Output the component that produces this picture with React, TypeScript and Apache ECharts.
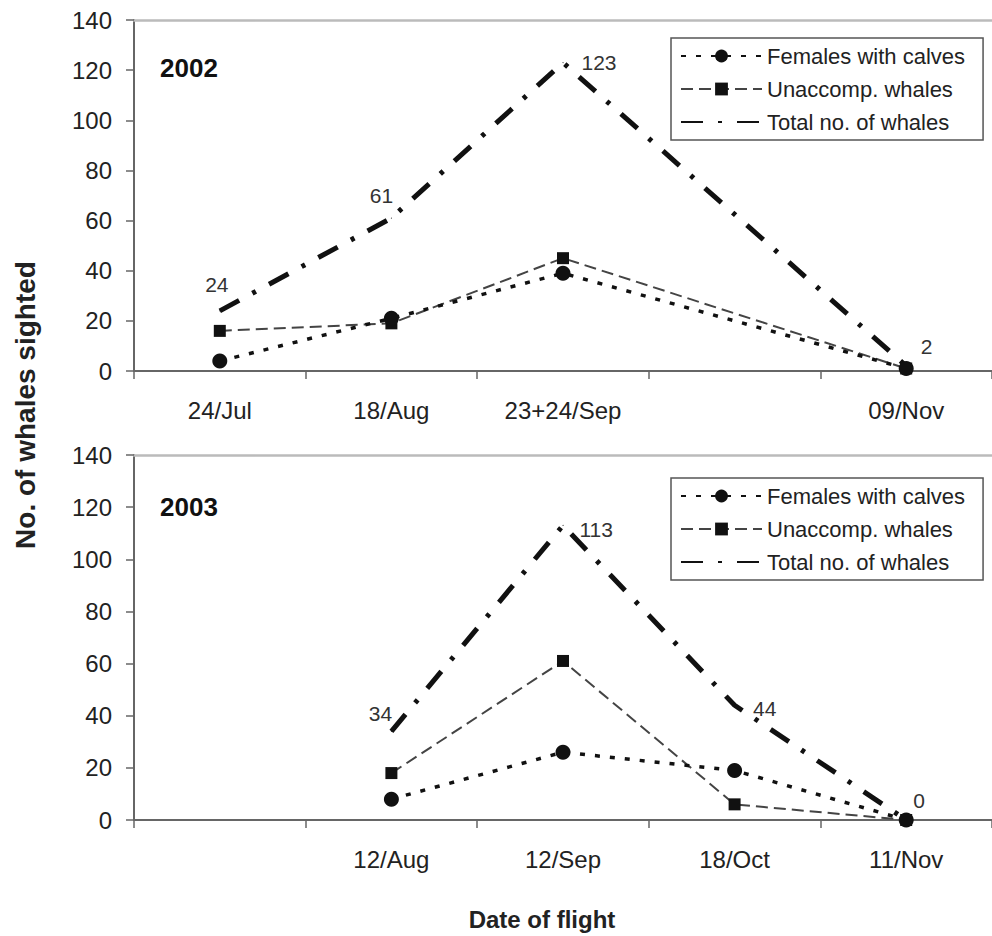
import React, { useEffect, useRef } from "react";
import * as echarts from "echarts";

const names = ["Females with calves", "Unaccomp. whales", "Total no. of whales"];

const categories2002 = ["24/Jul", "18/Aug", "23+24/Sep", "", "09/Nov"];
const females2002 = [4, 21, 39, null, 1];
const unaccomp2002 = [16, 19, 45, null, 1];
const total2002 = [24, 61, 123, null, 2];

const categories2003 = ["", "12/Aug", "12/Sep", "18/Oct", "11/Nov"];
const females2003 = [null, 8, 26, 19, 0];
const unaccomp2003 = [null, 18, 61, 6, 0];
const total2003 = [null, 34, 113, 44, 0];

const yMin = 0;
const yMax = 140;
const yStep = 20;

const FONT = "'Liberation Sans', Arial, sans-serif";

// label placement for the "Total" values (style only)
const totalLabel2002 = [
  { position: "top", distance: 15, offset: [-3, 0] },
  { position: "top", distance: 12, offset: [-10, 0] },
  { position: "right", distance: 18, offset: [0, 0] },
  null,
  { position: "right", distance: 14, offset: [0, -19] },
];
const totalLabel2003 = [
  null,
  { position: "top", distance: 7, offset: [-11, 0] },
  { position: "right", distance: 16, offset: [0, 4] },
  { position: "right", distance: 18, offset: [0, 3] },
  { position: "top", distance: 9, offset: [13, 0] },
];

function buildSeries(gi: number, fem: any[], una: any[], tot: any[], lab: any[]) {
  const totalData = tot.map((v, i) => {
    const l = lab[i];
    if (v === null || !l) return v;
    return {
      value: v,
      label: {
        show: true,
        position: l.position,
        distance: l.distance,
        offset: l.offset,
        color: "#333",
        fontSize: 21,
        fontFamily: FONT,
      },
    };
  });
  return [
    {
      name: names[0],
      type: "line",
      xAxisIndex: gi * 2,
      yAxisIndex: gi,
      data: fem,
      connectNulls: true,
      symbol: "circle",
      symbolSize: 15,
      itemStyle: { color: "#111" },
      lineStyle: { color: "#111", width: 3.5, type: [5, 10] },
      z: 4,
    },
    {
      name: names[1],
      type: "line",
      xAxisIndex: gi * 2,
      yAxisIndex: gi,
      data: una,
      connectNulls: true,
      symbol: "rect",
      symbolSize: 12,
      itemStyle: { color: "#111" },
      lineStyle: { color: "#444", width: 2, type: [12, 6] },
      z: 3,
    },
    {
      name: names[2],
      type: "line",
      xAxisIndex: gi * 2,
      yAxisIndex: gi,
      data: totalData,
      connectNulls: true,
      symbol: "circle",
      symbolSize: 1,
      showSymbol: true,
      itemStyle: { color: "#111" },
      lineStyle: { color: "#111", width: 5, type: [22, 15, 4, 15] },
      label: { show: false },
      z: 2,
    },
  ];
}

function xAxes(gi: number, cats: string[]) {
  return [
    {
      type: "category",
      gridIndex: gi,
      data: cats,
      boundaryGap: true,
      axisLine: { show: true, lineStyle: { color: "#666", width: 2 } },
      axisTick: { show: true, length: 8, lineStyle: { color: "#666", width: 1.5 } },
      axisLabel: { color: "#222", fontSize: 24, fontFamily: FONT, margin: 27, interval: 0 },
      splitLine: { show: false },
    },
    {
      type: "category",
      gridIndex: gi,
      position: "top",
      data: cats,
      axisLine: { show: true, lineStyle: { color: "#bbb", width: 2.5 } },
      axisTick: { show: false },
      axisLabel: { show: false },
      splitLine: { show: false },
    },
  ];
}

function yAxis(gi: number) {
  return {
    type: "value",
    gridIndex: gi,
    min: yMin,
    max: yMax,
    interval: yStep,
    axisLine: { show: true, lineStyle: { color: "#666", width: 2 } },
    axisTick: { show: true, length: 8, lineStyle: { color: "#666", width: 1.5 } },
    axisLabel: { color: "#222", fontSize: 24, fontFamily: FONT, margin: 22 },
    splitLine: { show: false },
  };
}

function legend(left: number, top: number) {
  return {
    left,
    top,
    orient: "vertical",
    data: [
      { name: names[0] },
      { name: names[1] },
      { name: names[2], itemStyle: { opacity: 0 } },
    ],
    itemWidth: 81,
    itemHeight: 16,
    itemGap: 11,
    padding: [7, 18, 7, 9],
    borderColor: "#555",
    borderWidth: 1.5,
    selectedMode: false,
    textStyle: { color: "#222", fontSize: 22, fontFamily: FONT },
  };
}

export default function App() {
  const ref = useRef<HTMLDivElement>(null);
  useEffect(() => {
    document.body.style.margin = "0";
    const chart = echarts.init(ref.current!, null, { renderer: "svg" });
    const option: any = {
      animation: false,
      backgroundColor: "#fff",
      grid: [
        { left: 134, top: 20, width: 865, height: 351 },
        { left: 134, top: 455, width: 865, height: 365 },
      ],
      xAxis: [...xAxes(0, categories2002), ...xAxes(1, categories2003)],
      yAxis: [yAxis(0), yAxis(1)],
      legend: [legend(671, 38), legend(671, 478)],
      series: [
        ...buildSeries(0, females2002, unaccomp2002, total2002, totalLabel2002),
        ...buildSeries(1, females2003, unaccomp2003, total2003, totalLabel2003),
      ],
      graphic: [
        {
          type: "text",
          left: 160,
          top: 55,
          style: { text: "2002", fontSize: 26, fontWeight: "bold", fontFamily: FONT, fill: "#111" },
        },
        {
          type: "text",
          left: 160,
          top: 494,
          style: { text: "2003", fontSize: 26, fontWeight: "bold", fontFamily: FONT, fill: "#111" },
        },
        {
          type: "text",
          x: 25,
          y: 405,
          rotation: Math.PI / 2,
          style: {
            text: "No. of whales sighted",
            fontSize: 28,
            fontWeight: "bold",
            fontFamily: FONT,
            fill: "#222",
            align: "center",
            verticalAlign: "middle",
          },
        },
        {
          type: "text",
          x: 542,
          y: 919,
          style: {
            text: "Date of flight",
            fontSize: 24,
            fontWeight: "bold",
            fontFamily: FONT,
            fill: "#222",
            align: "center",
            verticalAlign: "middle",
          },
        },
      ],
    };
    chart.setOption(option);
    return () => chart.dispose();
  }, []);
  return <div ref={ref} style={{ width: 992, height: 936 }} />;
}
